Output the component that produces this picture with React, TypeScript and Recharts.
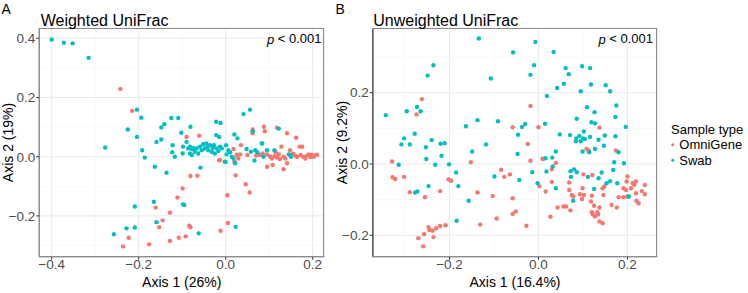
import React from 'react';
import { ScatterChart, Scatter, XAxis, YAxis, CartesianGrid, ReferenceLine } from 'recharts';

type Pt = [number, number];

const OMNI = '#F8766D';
const SWAB = '#00BFC4';
const FONT = '"Liberation Sans", Arial, sans-serif';

const weightedOmni: Pt[] = [
  [-0.242, 0.229], [-0.215, 0.155], [-0.09, 0.067], [-0.061, 0.071], [-0.015, -0.012], [0.018, 0.026], [0.02, -0.017],
  [0.035, 0.039], [0.05, 0.006], [0.062, 0.092], [0.062, 0.079], [0.088, 0.101], [0.09, 0.086], [0.118, 0.098],
  [0.141, 0.079], [0.162, 0.064], [0.128, 0.034], [0.17, 0.034], [0.176, 0.034], [0.148, 0.022], [0.095, -0.034],
  [0.108, -0.028], [0.133, -0.042], [0.141, -0.022], [0.079, 0.006], [0.085, 0.011], [0.095, 0.008], [0.102, 0],
  [0.106, -0.006], [0.112, 0.002], [0.118, -0.003], [0.122, 0.008], [0.125, -0.008], [0.133, 0], [0.137, -0.006],
  [0.16, 0.003], [0.164, -0.001], [0.172, 0.006], [0.178, 0], [0.183, -0.006], [0.187, 0.003], [0.191, 0.008],
  [0.195, -0.001], [0.198, 0.006], [0.202, 0], [0.025, 0.006], [0.029, -0.006], [0.033, 0.008], [0.205, 0.004],
  [0.21, 0.007], [0.155, 0.01], [0.115, 0.015], [0.07, 0.004], [-0.081, -0.065], [-0.065, -0.064], [0.023, -0.063],
  [-0.099, -0.107], [0.046, -0.093], [0.055, -0.121], [0.004, -0.13], [-0.111, -0.138], [-0.161, -0.172],
  [-0.128, -0.189], [-0.145, -0.215], [-0.153, -0.238], [-0.084, -0.233], [-0.081, -0.238], [0.005, -0.224],
  [-0.012, -0.25], [-0.223, -0.274], [-0.108, -0.274], [-0.092, -0.269], [-0.128, -0.285], [-0.176, -0.296],
  [-0.236, -0.303], [-0.013, -0.011],
];

const weightedSwab: Pt[] = [
  [-0.4, 0.396], [-0.372, 0.385], [-0.352, 0.383], [-0.315, 0.334], [-0.277, 0.031], [-0.204, 0.159], [-0.194, 0.132],
  [-0.225, 0.092], [-0.204, 0.067], [-0.192, 0.022], [-0.186, -0.003], [-0.163, -0.034], [-0.136, -0.054],
  [-0.159, 0.05], [-0.148, 0.058], [-0.148, 0.099], [-0.141, 0.11], [-0.125, 0.131], [-0.109, 0.131], [-0.081, 0.101],
  [-0.102, 0.081], [-0.122, 0.039], [-0.123, 0.015], [-0.117, 0], [-0.099, 0.011], [-0.098, 0.034], [-0.09, 0.05],
  [-0.086, 0.028], [-0.082, 0.034], [-0.078, 0.026], [-0.075, 0.03], [-0.071, 0.017], [-0.067, 0.028], [-0.063, 0.011],
  [-0.059, 0.034], [-0.055, 0.022], [-0.052, 0.042], [-0.048, 0.028], [-0.045, 0.045], [-0.042, 0.034], [-0.04, 0.022],
  [-0.036, 0.039], [-0.032, 0.017], [-0.03, 0.03], [-0.027, 0.039], [-0.025, 0.011], [-0.021, 0.028], [-0.017, 0.019],
  [-0.013, 0.034], [-0.009, 0.028], [-0.082, 0.011], [-0.078, 0.006], [-0.058, -0.037], [-0.022, 0.118],
  [-0.012, 0.114], [-0.022, 0.073], [-0.015, 0.067], [0.02, 0.075], [0.027, 0.062], [0.041, 0.144], [0.056, 0.159],
  [0.062, 0.086], [0.048, 0.026], [0.058, 0.017], [0.068, 0.022], [0.073, 0.015], [0.083, 0.045], [0.095, 0.022],
  [0.112, 0.022], [0.122, 0.095], [0.145, 0.008], [0.15, 0], [0.001, 0.039], [0.006, 0.022], [0.01, 0.015],
  [0.002, 0.008], [0.014, 0], [0.018, -0.006], [-0.002, -0.017], [0.022, -0.022], [0.066, -0.013], [-0.098, -0.161],
  [-0.095, -0.163], [-0.209, -0.168], [-0.165, -0.152], [-0.159, -0.221], [-0.209, -0.239], [-0.228, -0.242],
  [-0.257, -0.262], [-0.062, -0.259], [0.023, -0.237], [0, -0.018], [0.148, 0.006], [0.087, 0], [0.084, 0.045],
];

const unweightedOmni: Pt[] = [
  [-0.262, 0.182], [-0.274, 0.139], [-0.018, 0.163], [-0.058, 0.103], [0, 0.103], [-0.024, 0.056], [0.137, 0.102],
  [-0.329, 0.007], [-0.328, -0.037], [-0.322, -0.042], [-0.302, -0.036], [-0.289, -0.079], [-0.255, -0.093],
  [-0.221, -0.076], [-0.202, -0.043], [-0.196, -0.047], [-0.152, 0.005], [-0.137, -0.08], [-0.103, -0.09],
  [-0.084, -0.016], [-0.077, -0.036], [-0.064, -0.029], [-0.058, -0.096], [-0.051, -0.133], [-0.058, -0.14],
  [-0.094, -0.153], [-0.131, -0.17], [-0.027, -0.173], [-0.018, 0.009], [0.002, -0.062], [0.009, 0.015],
  [-0.209, -0.172], [-0.221, -0.174], [-0.23, -0.18], [-0.247, -0.177], [-0.245, -0.185], [-0.238, -0.187],
  [-0.257, -0.197], [-0.27, -0.208], [-0.236, -0.205], [-0.259, -0.231], [0.01, 0.014], [0.108, 0.042],
  [0.113, 0.037], [0.174, 0.038], [0.039, 0.003], [0.03, -0.015], [0.03, -0.05], [0.016, -0.077], [0.069, -0.052],
  [0.069, -0.073], [0.075, -0.087], [0.078, -0.091], [0.101, -0.029], [0.121, -0.031], [0.099, -0.068],
  [0.093, -0.085], [0.102, -0.087], [0.098, -0.098], [0.12, -0.089], [0.144, -0.068], [0.148, -0.063],
  [0.146, -0.087], [0.118, -0.105], [0.125, -0.117], [0.137, -0.122], [0.12, -0.135], [0.122, -0.141],
  [0.132, -0.135], [0.134, -0.141], [0.127, -0.147], [0.137, -0.161], [0.144, -0.166], [0.164, -0.115],
  [0.176, -0.122], [0.056, -0.119], [0.062, -0.119], [0.043, -0.122], [0.072, -0.13], [0.027, -0.148], [0.2, -0.035],
  [0.198, -0.049], [0.191, -0.068], [0.197, -0.073], [0.18, -0.093], [0.191, -0.093], [0.2, -0.091], [0.212, -0.054],
  [0.219, -0.049], [0.215, -0.058], [0.208, -0.068], [0.232, -0.076], [0.239, -0.059], [0.239, -0.085],
  [0.219, -0.082], [0.22, -0.103], [0.225, -0.11],
];

const unweightedSwab: Pt[] = [
  [-0.134, 0.352], [-0.007, 0.342], [-0.057, 0.313], [-0.236, 0.277], [-0.249, 0.248], [-0.107, 0.24], [-0.01, 0.277],
  [-0.018, 0.25], [-0.343, 0.137], [-0.296, 0.148], [-0.273, 0.16], [-0.265, 0.148], [-0.278, 0.085], [-0.302, 0.072],
  [-0.308, 0.055], [-0.289, 0.055], [-0.24, 0.067], [-0.253, 0.047], [-0.22, 0.057], [-0.211, 0.058], [-0.137, 0.123],
  [-0.163, 0.106], [-0.091, 0.12], [-0.118, 0.055], [-0.037, 0.104], [-0.03, 0.112], [-0.046, 0.082], [0.034, 0.314],
  [0.061, 0.269], [0.098, 0.274], [0.116, 0.269], [0.068, 0.252], [0.057, 0.225], [0.042, 0.213], [0.019, 0.191],
  [0.095, 0.204], [0.118, 0.223], [0.151, 0.221], [0.161, 0.204], [0.175, 0.164], [0.109, 0.159], [0.126, 0.145],
  [0.173, 0.132], [0.086, 0.127], [0.119, 0.117], [0.127, 0.114], [0.196, 0.104], [0.015, 0.113], [0.102, 0.091],
  [0.048, 0.083], [0.071, 0.081], [0.092, 0.079], [0.116, 0.076], [0.149, 0.08], [0.173, 0.078], [0.085, 0.072],
  [0.1, 0.072], [0.084, 0.064], [0.095, 0.064], [0.104, 0.07], [0.135, 0.068], [0.147, 0.051], [0.127, 0.042],
  [0.114, 0.033], [0.099, 0.035], [0.039, 0.035], [0.031, 0.018], [0.016, 0.016], [0.18, 0.033], [0.17, 0.005],
  [0.192, 0.002], [0.018, -0.021], [0.072, -0.02], [0.08, -0.015], [0.086, -0.023], [0.073, -0.036], [0.142, -0.024],
  [0.135, -0.04], [0.111, -0.036], [0.168, -0.017], [0.153, -0.054], [0.161, -0.048], [0.177, -0.054],
  [0.039, -0.068], [0.125, -0.07], [0.078, -0.103], [0.203, -0.091], [-0.252, 0.014], [-0.232, -0.002],
  [-0.218, 0.023], [-0.201, -0.001], [-0.314, -0.002], [-0.185, -0.024], [-0.149, 0.035], [-0.18, -0.062],
  [-0.247, -0.062], [-0.272, -0.077], [-0.277, -0.08], [-0.157, -0.103], [-0.184, -0.159], [-0.099, -0.035],
  [-0.047, 0.028], [-0.043, -0.045], [-0.014, -0.023], [-0.002, -0.054], [0.032, -0.007],
];

const weightedXTicks = [-0.4, -0.2, 0, 0.2];
const weightedYTicks = [-0.2, 0, 0.2, 0.4];
const weightedXMinor = [-0.3, -0.1, 0.1];
const weightedYMinor = [-0.3, -0.1, 0.1, 0.3];
const unweightedXTicks = [-0.2, 0, 0.2];
const unweightedYTicks = [-0.2, 0, 0.2];
const unweightedXMinor = [-0.3, -0.1, 0.1];
const unweightedYMinor = [-0.1, 0.1, 0.3];

const toPts = (a: Pt[]) => a.map(([x, y]) => ({ x, y }));
const fmt = (v: number) => v.toFixed(1).replace('-', '\u2212');

const dot = (color: string) => (props: any) => (
  <circle cx={props.cx} cy={props.cy} r={2.2} fill={color} />
);

const tickStyle = { fill: '#4d4d4d', fontSize: 13.5, fontFamily: FONT };

type PanelProps = {
  left: number;
  width: number;
  yAxisWidth: number;
  rightMargin: number;
  omni: Pt[];
  swab: Pt[];
  xDomain: [number, number];
  yDomain: [number, number];
  xTicks: number[];
  yTicks: number[];
  xMinor: number[];
  yMinor: number[];
};

const Panel = (p: PanelProps) => {
  const plotW = p.width - p.yAxisWidth - p.rightMargin;
  return (
    <div style={{ position: 'absolute', left: p.left, top: 0 }}>
      <ScatterChart width={p.width} height={293} margin={{ top: 28.3, right: p.rightMargin, left: 0, bottom: 0 }}>
        <CartesianGrid stroke="#ebebeb" strokeWidth={1.1} />
        {p.xMinor.map((v) => (
          <ReferenceLine key={'x' + v} x={v} stroke="#f4f4f4" strokeWidth={0.6} />
        ))}
        {p.yMinor.map((v) => (
          <ReferenceLine key={'y' + v} y={v} stroke="#f4f4f4" strokeWidth={0.6} />
        ))}
        <XAxis
          type="number"
          dataKey="x"
          domain={p.xDomain}
          ticks={p.xTicks}
          allowDataOverflow
          tickFormatter={fmt}
          height={36.3}
          tickSize={3}
          tickMargin={0}
          tick={tickStyle}
          tickLine={{ stroke: '#333' }}
          axisLine={{ stroke: '#555', strokeWidth: 1.2 }}
        />
        <YAxis
          type="number"
          dataKey="y"
          domain={p.yDomain}
          ticks={p.yTicks}
          allowDataOverflow
          tickFormatter={fmt}
          width={p.yAxisWidth}
          tickSize={3}
          tickMargin={1}
          tick={tickStyle}
          tickLine={{ stroke: '#333' }}
          axisLine={{ stroke: '#555', strokeWidth: 1.2 }}
        />
        <Scatter name="OmniGene" data={toPts(p.omni)} shape={dot(OMNI)} isAnimationActive={false} />
        <Scatter name="Swab" data={toPts(p.swab)} shape={dot(SWAB)} isAnimationActive={false} />
      </ScatterChart>
      <div
        style={{
          position: 'absolute',
          left: p.yAxisWidth,
          top: 28.3,
          width: plotW,
          height: 228.4,
          boxSizing: 'border-box',
          border: '1px solid #8c8c8c',
          pointerEvents: 'none',
        }}
      />
    </div>
  );
};

export default function App() {
  return (
    <div style={{ position: 'absolute', left: 0, top: 0, width: 748, height: 293, background: '#fff', fontFamily: FONT }}>
      <Panel
        left={0}
        width={330}
        yAxisWidth={39.3}
        rightMargin={5.7}
        omni={weightedOmni}
        swab={weightedSwab}
        xDomain={[-0.4285, 0.2267]}
        yDomain={[-0.3378, 0.4338]}
        xTicks={weightedXTicks}
        yTicks={weightedYTicks}
        xMinor={weightedXMinor}
        yMinor={weightedYMinor}
      />
      <Panel
        left={330}
        width={335}
        yAxisWidth={42.7}
        rightMargin={7.7}
        omni={unweightedOmni}
        swab={unweightedSwab}
        xDomain={[-0.3725, 0.267]}
        yDomain={[-0.26, 0.3806]}
        xTicks={unweightedXTicks}
        yTicks={unweightedYTicks}
        xMinor={unweightedXMinor}
        yMinor={unweightedYMinor}
      />
      <svg width={748} height={293} style={{ position: 'absolute', left: 0, top: 0, pointerEvents: 'none' }} fontFamily={FONT}>
        <text x={1.5} y={8.5} fontSize={14} dominantBaseline="central">A</text>
        <text x={335.5} y={8.5} fontSize={14} dominantBaseline="central">B</text>
        <text x={40.7} y={20.5} fontSize={16} dominantBaseline="central">Weighted UniFrac</text>
        <text x={373.3} y={20.5} fontSize={16} dominantBaseline="central">Unweighted UniFrac</text>
        <text x={321.5} y={38.8} fontSize={13} textAnchor="end" dominantBaseline="central">
          <tspan fontStyle="italic">p</tspan> &lt; 0.001
        </text>
        <text x={653} y={38.8} fontSize={13} textAnchor="end" dominantBaseline="central">
          <tspan fontStyle="italic">p</tspan> &lt; 0.001
        </text>
        <text x={181.8} y={281.5} fontSize={14} textAnchor="middle" dominantBaseline="central">Axis 1 (26%)</text>
        <text x={515} y={281.5} fontSize={14} textAnchor="middle" dominantBaseline="central">Axis 1 (16.4%)</text>
        <text x={7.5} y={142.5} fontSize={14} textAnchor="middle" dominantBaseline="central" transform="rotate(-90 7.5 142.5)">Axis 2 (19%)</text>
        <text x={342} y={142.5} fontSize={14} textAnchor="middle" dominantBaseline="central" transform="rotate(-90 342 142.5)">Axis 2 (9.2%)</text>
        <text x={671} y={129.3} fontSize={13} dominantBaseline="central">Sample type</text>
        <circle cx={672.7} cy={144.8} r={1.5} fill={OMNI} />
        <text x={679.3} y={144.8} fontSize={13} dominantBaseline="central">OmniGene</text>
        <circle cx={672.7} cy={160.3} r={1.5} fill={SWAB} />
        <text x={679.3} y={160.3} fontSize={13} dominantBaseline="central">Swab</text>
      </svg>
    </div>
  );
}
